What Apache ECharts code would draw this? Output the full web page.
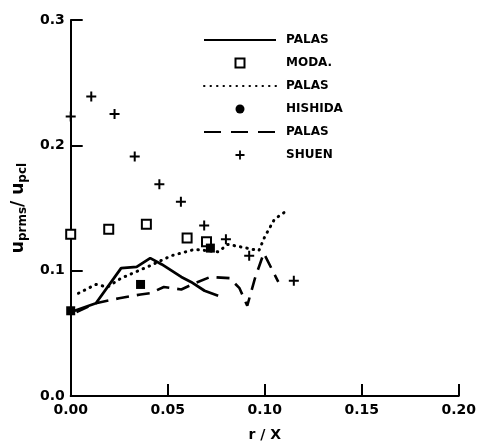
<!DOCTYPE html>
<html>
<head>
<meta charset="utf-8">
<script src="https://cdn.jsdelivr.net/npm/echarts@6/dist/echarts.min.js"></script>
<style>
  html, body { margin: 0; padding: 0; background: #fff; }
  #chart { width: 479px; height: 447px; }
</style>
</head>
<body>
<div id="chart"></div>
<script>
// values, [r/X, u_prms/u_pcl]
var palasSolid = [[0.002, 0.068], [0.013, 0.074], [0.026, 0.102], [0.034, 0.103], [0.041, 0.110],
  [0.047, 0.105], [0.057, 0.095], [0.062, 0.091], [0.069, 0.084], [0.076, 0.080]];
var moda = [[0.0, 0.129], [0.0196, 0.133], [0.039, 0.137], [0.060, 0.126], [0.070, 0.123]];
var palasDotted = [[0.004, 0.082], [0.013, 0.089], [0.019, 0.087], [0.026, 0.094], [0.041, 0.104],
  [0.052, 0.112], [0.064, 0.117], [0.076, 0.115], [0.081, 0.121], [0.0875, 0.119], [0.097, 0.116],
  [0.100, 0.127], [0.105, 0.141], [0.1115, 0.148]];
var hishida = [[0.0, 0.068], [0.036, 0.089], [0.072, 0.118]];
var palasDashed = [[0.003, 0.067], [0.013, 0.074], [0.025, 0.078], [0.036, 0.081], [0.041, 0.082],
  [0.048, 0.087], [0.057, 0.085], [0.064, 0.090], [0.072, 0.095], [0.082, 0.094], [0.087, 0.086],
  [0.091, 0.072], [0.095, 0.094], [0.0995, 0.114], [0.107, 0.091]];
var shuen = [[0.0, 0.223], [0.0106, 0.239], [0.0226, 0.225], [0.033, 0.191], [0.0457, 0.169],
  [0.0568, 0.155], [0.0688, 0.136], [0.080, 0.125], [0.092, 0.112], [0.115, 0.092]];

var legendNames = ['PALAS', 'MODA.', 'PALAS ', 'HISHIDA', 'PALAS  ', 'SHUEN'];

var font = 'DejaVu Sans';
var plus = 'path://M4,0H6V4H10V6H6V10H4V6H0V4H4Z';
var square = 'path://M0,0H10V10H0Z';
var noDot = { color: 'rgba(0,0,0,0)', borderColor: 'rgba(0,0,0,0)', borderWidth: 0 };

var chart = echarts.init(document.getElementById('chart'));
chart.setOption({
  backgroundColor: '#ffffff',
  animation: false,
  grid: { left: 69, right: 12, top: 20, bottom: 49 },
  legend: {
    orient: 'vertical',
    left: 203,
    top: 34,
    padding: 0,
    itemWidth: 72,
    itemHeight: 9,
    itemGap: 11,
    selectedMode: false,
    data: [
      { name: legendNames[0], itemStyle: noDot },
      { name: legendNames[1], icon: square },
      { name: legendNames[2], itemStyle: noDot },
      { name: legendNames[3], icon: 'circle' },
      { name: legendNames[4], itemStyle: noDot, lineStyle: { type: [17, 10] } },
      { name: legendNames[5] }
    ],
    formatter: function (n) { return n.trim(); },
    textStyle: { fontFamily: font, fontWeight: 'bold', fontSize: 12, color: '#000', padding: [0, 0, 0, 5] }
  },
  xAxis: {
    type: 'value',
    min: 0, max: 0.2, interval: 0.05,
    name: 'r / X',
    nameLocation: 'middle',
    nameGap: 32,
    nameTextStyle: { fontFamily: font, fontWeight: 'bold', fontSize: 14, color: '#000' },
    axisLine: { lineStyle: { color: '#000', width: 2 } },
    axisTick: { inside: true, length: 12, lineStyle: { color: '#000', width: 2 } },
    axisLabel: {
      margin: 7, color: '#000', fontFamily: font, fontWeight: 'bold', fontSize: 14,
      formatter: function (v) { return v.toFixed(2); }
    },
    splitLine: { show: false }
  },
  yAxis: {
    type: 'value',
    min: 0, max: 0.3, interval: 0.1,
    name: '{u|u}{s|prms}{u|/ u}{s|pcl}',
    nameLocation: 'middle',
    nameRotate: 90,
    nameGap: 26,
    nameTextStyle: {
      color: '#000',
      rich: {
        u: { fontFamily: font, fontWeight: 'bold', fontSize: 17, color: '#000', lineHeight: 24, verticalAlign: 'middle' },
        s: { fontFamily: font, fontWeight: 'bold', fontSize: 12, color: '#000', lineHeight: 24, padding: [9, 0, 0, 0], verticalAlign: 'middle' }
      }
    },
    axisLine: { show: true, lineStyle: { color: '#000', width: 2 } },
    axisTick: { show: true, inside: true, length: 12, lineStyle: { color: '#000', width: 2 } },
    axisLabel: {
      margin: 6, color: '#000', fontFamily: font, fontWeight: 'bold', fontSize: 14,
      formatter: function (v) { return v.toFixed(1); }
    },
    splitLine: { show: false }
  },
  series: [
    {
      name: legendNames[0], type: 'line', data: palasSolid, symbol: 'none',
      lineStyle: { color: '#000', width: 2.8 }, itemStyle: { color: '#000' }
    },
    {
      name: legendNames[1], type: 'scatter', data: moda, symbol: 'rect', symbolSize: 9,
      itemStyle: { color: '#fff', borderColor: '#000', borderWidth: 2, opacity: 1 }
    },
    {
      name: legendNames[2], type: 'line', data: palasDotted, symbol: 'none',
      lineStyle: { color: '#000', width: 3, type: [0.5, 6], cap: 'round' }, itemStyle: { color: '#000' }
    },
    {
      name: legendNames[3], type: 'scatter', data: hishida, symbol: 'rect', symbolSize: 9,
      itemStyle: { color: '#000', opacity: 1 }
    },
    {
      name: legendNames[4], type: 'line', data: palasDashed, symbol: 'none',
      lineStyle: { color: '#000', width: 2.6, type: [13, 8] }, itemStyle: { color: '#000' }
    },
    {
      name: legendNames[5], type: 'scatter', data: shuen, symbol: plus, symbolSize: 10,
      itemStyle: { color: '#000', opacity: 1 }
    }
  ]
});
</script>
</body>
</html>
